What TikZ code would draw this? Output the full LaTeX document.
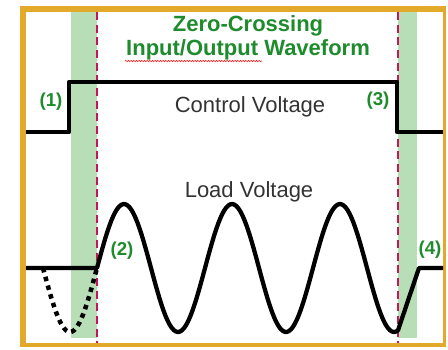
\documentclass[tikz,border=0pt]{standalone}
\usepackage{fontspec}
\setmainfont{Liberation Sans}
\usepackage{tikz}
\usetikzlibrary{decorations.pathmorphing}
\definecolor{frame}{HTML}{E3A92B}
\definecolor{band}{HTML}{B8DEB8}
\definecolor{marker}{HTML}{C2185B}
\definecolor{heading}{HTML}{1E8C2C}
\definecolor{ink}{HTML}{333333}

\begin{document}
\begin{tikzpicture}[x=0.75pt,y=-0.75pt,
    wave/.style={line width=3.2pt,line join=round},
    tag/.style={font=\fontsize{14}{16}\selectfont\bfseries,text=heading},
    caption/.style={font=\fontsize{16.5}{18}\selectfont,text=ink,anchor=base},
    titleline/.style={font=\fontsize{16.5}{18}\selectfont\bfseries,text=heading,anchor=base}]
    \useasboundingbox (0,0) rectangle (448,349);
    \fill[frame] (20,6) rectangle (446,347);
    \fill[white] (26,12) rectangle (443,343);
    \foreach \a/\b in {71/97,398/417}{\fill[band] (\a,12) rectangle (\b,338);}
    \foreach \x in {97,398}{\draw[marker,line width=2pt,dash pattern=on 6pt off 3.5pt] (\x,12) -- (\x,343);}
    \node[titleline] (zc) at (248,32) {Zero-Crossing};
    \node[titleline] (wf) at (248,56) {Input/Output Waveform};
    \draw[red!85,line width=0.5pt,decorate,decoration={snake,amplitude=0.5pt,segment length=2pt}] (125,61) -- (262,61);
    \node[caption] (ctl) at (250,112) {Control Voltage};
    \node[caption] (load) at (249,197) {Load Voltage};
    \draw[wave] (26,132) -- (69,132) -- (69,82) -- (397,82) -- (397,132) -- (443,132);
    \draw[line width=3.4pt,dash pattern=on 3.4pt off 3.4pt] plot[domain=43:97,samples=40] (\x,{268+64*sin(3.3333*(\x-43))});
    \draw[wave] (26,268) -- (97,268) -- plot[domain=97:398,samples=150] (\x,{268-64*sin(3.3333*(\x-97))}) -- (419,268) -- (443,268);
    \node[tag] (p1) at (51,102) {(1)};
    \node[tag] (p2) at (122,251) {(2)};
    \node[tag] (p3) at (378,101) {(3)};
    \node[tag] (p4) at (430,250) {(4)};
  \end{tikzpicture}
\end{document}
